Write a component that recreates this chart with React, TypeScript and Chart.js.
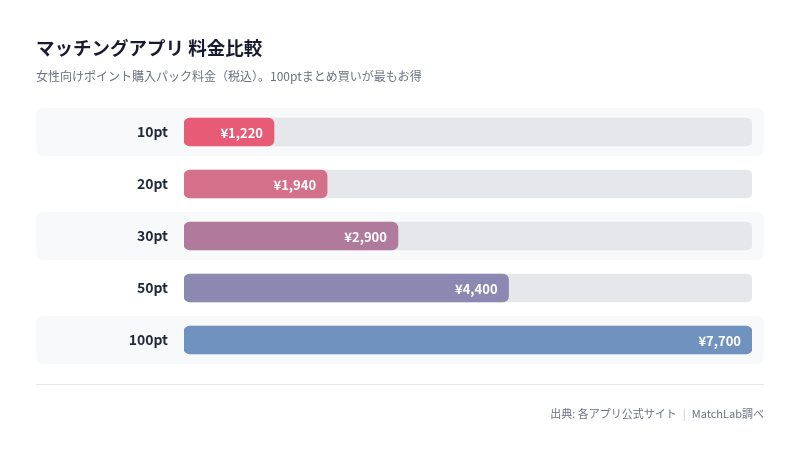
import React, { useEffect, useRef } from "react";
import { Chart, registerables } from "chart.js";

Chart.register(...registerables);

const categories = ["10pt", "20pt", "30pt", "50pt", "100pt"];
const prices = [1220, 1940, 2900, 4400, 7700];
const barColors = ["#e85b76", "#d5708a", "#b07a9c", "#8b88b2", "#7092bf"];
const axisMax = 7700;

const FONT = '"Noto Sans CJK JP", "Noto Sans", sans-serif';

export default function App() {
  const ref = useRef<HTMLCanvasElement | null>(null);

  useEffect(() => {
    document.body.style.margin = "0";
    const canvas = ref.current;
    if (!canvas) return;

    const rowBg = {
      id: "rowBg",
      beforeDraw(chart: any) {
        const ctx = chart.ctx;
        const y = chart.scales.y;
        ctx.save();
        ctx.fillStyle = "#f8f9fb";
        categories.forEach((_, i) => {
          if (i % 2 !== 0) return;
          const cy = y.getPixelForValue(i);
          ctx.beginPath();
          (ctx as any).roundRect(36, cy - 24, 728, 48, 8);
          ctx.fill();
        });
        ctx.restore();
      },
    };

    const valueLabels = {
      id: "valueLabels",
      afterDatasetsDraw(chart: any) {
        const ctx = chart.ctx;
        const meta = chart.getDatasetMeta(1);
        ctx.save();
        ctx.fillStyle = "#ffffff";
        ctx.font = `bold 13px ${FONT}`;
        ctx.textAlign = "right";
        ctx.textBaseline = "middle";
        meta.data.forEach((bar: any, i: number) => {
          ctx.fillText("¥" + prices[i].toLocaleString("en-US"), bar.x - 11, bar.y + 1);
        });
        ctx.restore();
      },
    };

    const chart = new Chart(canvas, {
      type: "bar",
      data: {
        labels: categories,
        datasets: [
          {
            data: categories.map(() => axisMax),
            backgroundColor: "#e5e7eb",
            borderRadius: 6,
            borderSkipped: false,
            barThickness: 28,
            grouped: false,
            order: 2,
          } as any,
          {
            data: prices,
            backgroundColor: barColors,
            borderRadius: 6,
            borderSkipped: false,
            barThickness: 28,
            grouped: false,
            order: 1,
          } as any,
        ],
      },
      options: {
        indexAxis: "y",
        animation: false,
        responsive: false,
        devicePixelRatio: 1,
        layout: { padding: { left: 36, right: 48, top: 106, bottom: 87 } },
        plugins: { legend: { display: false }, tooltip: { enabled: false } },
        scales: {
          x: { display: false, min: 0, max: axisMax },
          y: {
            afterFit: (s: any) => {
              s.width = 148;
            },
            grid: { display: false, drawTicks: false },
            border: { display: false },
            ticks: {
              autoSkip: false,
              padding: 16,
              color: "#1f2937",
              font: { family: FONT, size: 14, weight: "bold" },
            },
          },
        },
      },
      plugins: [rowBg, valueLabels],
    });
    return () => chart.destroy();
  }, []);

  return (
    <div style={{ position: "relative", width: 800, height: 453, background: "#ffffff", fontFamily: FONT }}>
      <canvas ref={ref} width={800} height={453} style={{ position: "absolute", left: 0, top: 0 }} />
      <div
        style={{
          position: "absolute",
          left: 36,
          top: 34,
          fontSize: 18.5,
          fontWeight: 700,
          color: "#1a1a2e",
          lineHeight: "26px",
          whiteSpace: "nowrap",
        }}
      >
        マッチングアプリ 料金比較
      </div>
      <div
        style={{
          position: "absolute",
          left: 36,
          top: 67,
          fontSize: 12,
          color: "#6b7280",
          lineHeight: "18px",
          whiteSpace: "nowrap",
        }}
      >
        女性向けポイント購入パック料金（税込）。100ptまとめ買いが最もお得
      </div>
      <div style={{ position: "absolute", left: 36, top: 384, width: 728, height: 1, background: "#e5e7eb" }} />
      <div
        style={{
          position: "absolute",
          right: 36,
          top: 404,
          fontSize: 11,
          color: "#6b7280",
          lineHeight: "18px",
          whiteSpace: "nowrap",
        }}
      >
        出典: 各アプリ公式サイト<span style={{ color: "#c4c8cf", margin: "0 6px" }}>|</span>MatchLab調べ
      </div>
    </div>
  );
}
